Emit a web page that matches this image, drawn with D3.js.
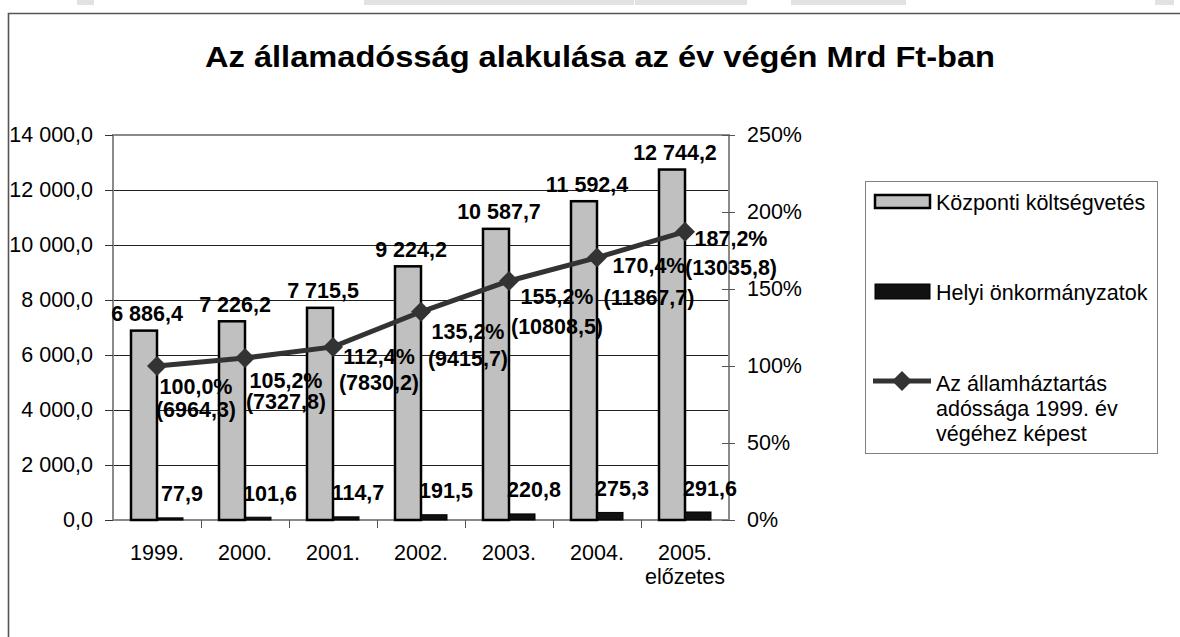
<!DOCTYPE html>
<html>
<head>
<meta charset="utf-8">
<script src="https://cdn.jsdelivr.net/npm/d3@7"></script>
<style>
  body { margin: 0; background: #fff; }
  svg { display: block; font-family: Arial, "Liberation Sans", sans-serif; }
</style>
</head>
<body>
<svg id="chart" width="1180" height="637"></svg>
<script>
// data
var years = ["1999.", "2000.", "2001.", "2002.", "2003.", "2004.", "2005."];
var yearNotes = ["", "", "", "", "", "", "előzetes"];
var central = [6886.4, 7226.2, 7715.5, 9224.2, 10587.7, 11592.4, 12744.2];
var local = [77.9, 101.6, 114.7, 191.5, 220.8, 275.3, 291.6];
var ratio = [100.0, 105.2, 112.4, 135.2, 155.2, 170.4, 187.2];
var totalDebt = [6964.3, 7327.8, 7830.2, 9415.7, 10808.5, 11867.7, 13035.8];
var leftTicks = [0, 2000, 4000, 6000, 8000, 10000, 12000, 14000];
var rightTicks = [0, 50, 100, 150, 200, 250];
var seriesNames = ["Központi költségvetés", "Helyi önkormányzatok",
  ["Az államháztartás", "adóssága 1999. év", "végéhez képest"]];

// label nudges for the line labels (px right of / below the marker)
var nudgeX = [39, 41, 46, 47, 48, 52, 46];
var nudge1 = [20, 22, 10, 20, 15, 8, 7];
var nudge2 = [43, 43, 36, 47, 45, 40, 36];

var hu = d3.formatLocale({decimal: ",", thousands: " ", grouping: [3], currency: ["", " Ft"]});
var fmtThousands = hu.format(",.1f");
var fmtPlain = hu.format(".1f");

var FS = 21.5;
var svg = d3.select("#chart");

// toolbar remnants at the very top
var strips = [[77, 17], [364, 270], [635, 112], [791, 115], [1155, 19]];
svg.selectAll("rect.strip")
  .data(strips)
  .enter()
  .append("rect")
  .attr("class", "strip")
  .attr("x", function(d) { return d[0]; })
  .attr("y", 0)
  .attr("width", function(d) { return d[1]; })
  .attr("height", 5)
  .attr("fill", "#e2e2e2");

// frame
svg.append("path")
  .attr("d", "M8.5,640 V13.5 H1182")
  .attr("fill", "none")
  .attr("stroke", "#555")
  .attr("stroke-width", 1.6);

svg.append("text")
  .attr("x", 600)
  .attr("y", 67)
  .attr("text-anchor", "middle")
  .attr("font-size", 30)
  .attr("font-weight", "bold")
  .attr("textLength", 790)
  .attr("lengthAdjust", "spacingAndGlyphs")
  .text("Az államadósság alakulása az év végén Mrd Ft-ban");

var plotL = 113, plotR = 729, plotT = 135, plotB = 520;

var x = d3.scaleBand().domain(years).range([plotL, plotR]);
var xInner = d3.scaleBand().domain(["k", "h"]).range([18, 70]);
var yL = d3.scaleLinear().domain([0, 14000]).range([plotB, plotT]);
var yR = d3.scaleLinear().domain([0, 250]).range([plotB, plotT]);

// gridlines
svg.append("g")
  .selectAll("line")
  .data(leftTicks.slice(1, -1))
  .enter()
  .append("line")
  .attr("x1", plotL)
  .attr("x2", plotR)
  .attr("y1", function(d) { return Math.round(yL(d)) + 0.5; })
  .attr("y2", function(d) { return Math.round(yL(d)) + 0.5; })
  .attr("stroke", "#222")
  .attr("stroke-width", 1);

// plot border
svg.append("rect")
  .attr("x", plotL)
  .attr("y", plotT)
  .attr("width", plotR - plotL)
  .attr("height", plotB - plotT)
  .attr("fill", "none")
  .attr("stroke", "#8a8a8a")
  .attr("stroke-width", 2);

// left axis
var axL = svg.append("g")
  .attr("transform", "translate(" + plotL + ",0)")
  .call(d3.axisLeft(yL).tickValues(leftTicks).tickFormat(fmtThousands).tickSize(8).tickPadding(12));
axL.select(".domain").remove();
axL.selectAll("line").attr("stroke", "#333");
axL.selectAll("text").attr("font-size", FS).attr("font-family", "Arial, 'Liberation Sans', sans-serif").attr("fill", "#000");

// right axis
var axR = svg.append("g")
  .attr("transform", "translate(" + plotR + ",0)")
  .call(d3.axisRight(yR).tickValues(rightTicks).tickFormat(function(d) { return d + "%"; }).tickSize(6).tickPadding(12));
axR.select(".domain").remove();
axR.selectAll("line").attr("stroke", "#555").attr("x1", -7);
axR.selectAll("text").attr("font-size", FS).attr("font-family", "Arial, 'Liberation Sans', sans-serif").attr("fill", "#000");

// bottom ticks between categories
svg.append("g")
  .selectAll("line")
  .data(years.slice(1))
  .enter()
  .append("line")
  .attr("x1", function(d) { return Math.round(x(d)) + 0.5; })
  .attr("x2", function(d) { return Math.round(x(d)) + 0.5; })
  .attr("y1", plotB)
  .attr("y2", plotB + 8)
  .attr("stroke", "#555");

// category labels
var catLabels = svg.append("g")
  .selectAll("text")
  .data(years)
  .enter()
  .append("text")
  .attr("text-anchor", "middle")
  .attr("font-size", FS)
  .attr("x", function(d) { return x(d) + x.bandwidth() / 2; })
  .attr("y", 560);
catLabels.append("tspan").text(function(d) { return d; });
catLabels.append("tspan")
  .attr("x", function(d) { return x(d) + x.bandwidth() / 2; })
  .attr("dy", 24)
  .text(function(d, i) { return yearNotes[i]; });

// bars
svg.append("g")
  .selectAll("rect")
  .data(central)
  .enter()
  .append("rect")
  .attr("x", function(d, i) { return x(years[i]) + xInner("k"); })
  .attr("y", function(d) { return yL(d); })
  .attr("width", xInner.bandwidth())
  .attr("height", function(d) { return plotB - yL(d); })
  .attr("fill", "#c0c0c0")
  .attr("stroke", "#000")
  .attr("stroke-width", 2.5);

svg.append("g")
  .selectAll("rect")
  .data(local)
  .enter()
  .append("rect")
  .attr("x", function(d, i) { return x(years[i]) + xInner("h"); })
  .attr("y", function(d) { return yL(d); })
  .attr("width", xInner.bandwidth())
  .attr("height", function(d) { return plotB - yL(d); })
  .attr("fill", "#111")
  .attr("stroke", "#000")
  .attr("stroke-width", 1);

// bar labels
svg.append("g")
  .selectAll("text")
  .data(central)
  .enter()
  .append("text")
  .attr("text-anchor", "middle")
  .attr("font-size", FS)
  .attr("font-weight", "bold")
  .attr("x", function(d, i) { return x(years[i]) + xInner("k") + xInner.bandwidth() / 2 + 3; })
  .attr("y", function(d) { return yL(d) - 17; })
  .attr("dy", "0.35em")
  .text(function(d) { return fmtThousands(d); });

svg.append("g")
  .selectAll("text")
  .data(local)
  .enter()
  .append("text")
  .attr("text-anchor", "middle")
  .attr("font-size", FS)
  .attr("font-weight", "bold")
  .attr("x", function(d, i) { return x(years[i]) + xInner("h") + xInner.bandwidth() / 2 + 12; })
  .attr("y", function(d) { return yL(d) - 24; })
  .attr("dy", "0.35em")
  .text(function(d) { return fmtThousands(d); });

// line
var cx = function(d, i) { return x(years[i]) + x.bandwidth() / 2; };
var line = d3.line()
  .x(cx)
  .y(function(d) { return yR(d); });

svg.append("path")
  .datum(ratio)
  .attr("d", line)
  .attr("fill", "none")
  .attr("stroke", "#333")
  .attr("stroke-width", 5);

var diamond = d3.symbol().type(d3.symbolSquare).size(200);
svg.append("g")
  .selectAll("path")
  .data(ratio)
  .enter()
  .append("path")
  .attr("d", diamond)
  .attr("transform", function(d, i) { return "translate(" + cx(d, i) + "," + yR(d) + ") rotate(45)"; })
  .attr("fill", "#333");

// line labels
var lineLabels = svg.append("g")
  .selectAll("text")
  .data(ratio)
  .enter()
  .append("text")
  .attr("text-anchor", "middle")
  .attr("font-size", FS)
  .attr("font-weight", "bold");
lineLabels.append("tspan")
  .attr("x", function(d, i) { return cx(d, i) + nudgeX[i]; })
  .attr("y", function(d, i) { return yR(d) + nudge1[i]; })
  .attr("dy", "0.35em")
  .text(function(d) { return fmtPlain(d) + "%"; });
lineLabels.append("tspan")
  .attr("x", function(d, i) { return cx(d, i) + nudgeX[i]; })
  .attr("y", function(d, i) { return yR(d) + nudge2[i]; })
  .attr("dy", "0.35em")
  .text(function(d, i) { return "(" + fmtPlain(totalDebt[i]) + ")"; });

// legend
var lg = svg.append("g");
lg.append("rect")
  .attr("x", 865.5)
  .attr("y", 181.5)
  .attr("width", 292)
  .attr("height", 272)
  .attr("fill", "#fff")
  .attr("stroke", "#808080");

lg.append("rect")
  .attr("x", 875).attr("y", 195).attr("width", 55).attr("height", 13)
  .attr("fill", "#c0c0c0").attr("stroke", "#000").attr("stroke-width", 2.5);
lg.append("text")
  .attr("x", 936).attr("y", 202).attr("dy", "0.35em").attr("font-size", FS)
  .text(seriesNames[0]);

lg.append("rect")
  .attr("x", 875).attr("y", 284).attr("width", 55).attr("height", 15)
  .attr("fill", "#111").attr("stroke", "#000").attr("stroke-width", 1);
lg.append("text")
  .attr("x", 936).attr("y", 292).attr("dy", "0.35em").attr("font-size", FS)
  .text(seriesNames[1]);

lg.append("line")
  .attr("x1", 873).attr("x2", 931).attr("y1", 381).attr("y2", 381)
  .attr("stroke", "#333").attr("stroke-width", 5);
lg.append("path")
  .attr("d", diamond)
  .attr("transform", "translate(902,381) rotate(45)")
  .attr("fill", "#333");
lg.append("g")
  .selectAll("text")
  .data(seriesNames[2])
  .enter()
  .append("text")
  .attr("x", 936)
  .attr("y", function(d, i) { return 383 + i * 25; })
  .attr("dy", "0.35em")
  .attr("font-size", FS)
  .text(function(d) { return d; });
</script>
</body>
</html>
